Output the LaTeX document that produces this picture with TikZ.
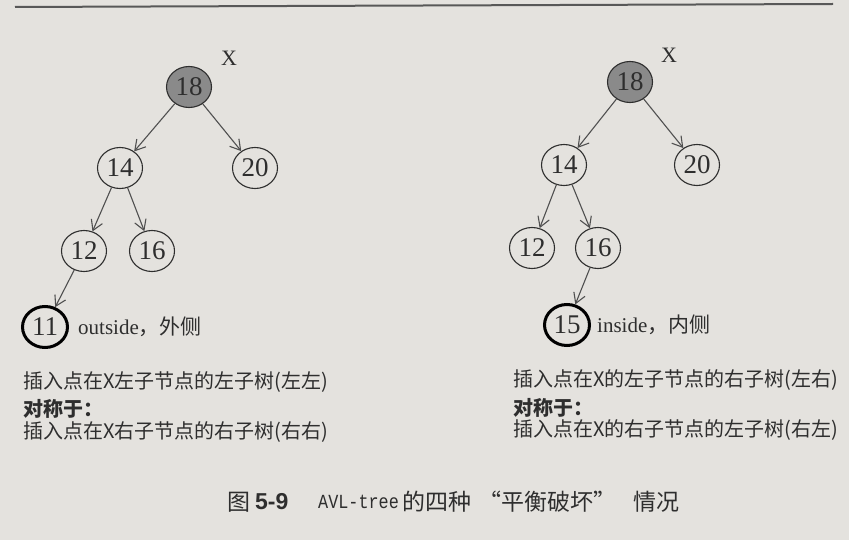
\documentclass[tikz,border=0pt]{standalone}
\usepackage{fontspec}
\setmainfont{Liberation Serif}
\setsansfont{Liberation Sans}
\setmonofont{Liberation Mono}
\newfontfamily\cjk{Noto Sans CJK SC}
\usetikzlibrary{arrows.meta,shapes.geometric}
\definecolor{paper}{HTML}{E4E2DE}
\definecolor{ink}{HTML}{2E2E2E}
\definecolor{edgec}{HTML}{505050}
\definecolor{rootfill}{HTML}{8A8A8A}
\begin{document}
\begin{tikzpicture}[x=1pt,y=-1pt,
  tn/.style={ellipse,draw=ink,line width=1.1pt,minimum width=45pt,minimum height=41pt,inner sep=0pt,
    font=\fontsize{27}{29}\selectfont,text=ink},
  rootn/.style={tn,fill=rootfill},
  newn/.style={tn,line width=3pt,draw=black},
  arr/.style={draw=edgec,line width=1.1pt,-{Straight Barb[length=10pt,width=12pt,line width=1.1pt]}},
  lbl/.style={font=\fontsize{22}{24}\selectfont,text=ink},
  side/.style={anchor=west,inner sep=0pt,font=\fontsize{21}{23}\selectfont,text=ink},
  desc/.style={anchor=west,inner sep=0pt,font=\cjk\fontsize{20}{22}\selectfont,text=ink},
  captxt/.style={anchor=west,inner sep=0pt,text=ink,font=\cjk\fontsize{23}{25}\selectfont}
]
\fill[paper] (0,0) rectangle (849,540);
\useasboundingbox (0,0) rectangle (849,540);
\draw[line width=2pt,draw=ink!80] (15,7) -- (833,4);

% left tree
\node[rootn] (l18) at (189,87) {18};
\node[tn] (l14) at (120,168) {14};
\node[tn] (l20) at (255,168) {20};
\node[tn] (l12) at (84,251) {12};
\node[tn] (l16) at (152,251) {16};
\node[newn] (l11) at (45,327) {11};
\node[lbl] (lx) at (229,58) {X};
\node[side] (lout) at (78,327) {outside{\cjk ，外侧}};
\draw[arr] (l18) -- (l14);
\draw[arr] (l18) -- (l20);
\draw[arr] (l14) -- (l12);
\draw[arr] (l14) -- (l16);
\draw[arr] (l12) -- (l11);

% right tree
\node[rootn] (r18) at (630,82) {18};
\node[tn] (r14) at (564,165) {14};
\node[tn] (r20) at (697,165) {20};
\node[tn] (r12) at (532,248) {12};
\node[tn] (r16) at (598,248) {16};
\node[newn] (r15) at (567,325) {15};
\node[lbl] (rx) at (669,55) {X};
\node[side] (rin) at (597,325) {inside{\cjk ，内侧}};
\draw[arr] (r18) -- (r14);
\draw[arr] (r18) -- (r20);
\draw[arr] (r14) -- (r12);
\draw[arr] (r14) -- (r16);
\draw[arr] (r16) -- (r15);

% descriptions
\node[desc] (ld1) at (23,382) {插入点在X左子节点的左子树(左左)};
\node[desc] (ld2) at (23,409) {\bfseries 对称于：};
\node[desc] (ld3) at (23,432) {插入点在X右子节点的右子树(右右)};
\node[desc] (rd1) at (513,380) {插入点在X的左子节点的右子树(左右)};
\node[desc] (rd2) at (513,408) {\bfseries 对称于：};
\node[desc] (rd3) at (513,430) {插入点在X的右子节点的左子树(右左)};

% caption
\node[captxt] (cap1) at (227,502) {图};
\node[captxt,font=\sffamily\bfseries\fontsize{23}{25}\selectfont] (cap2) at (255,502) {5-9};
\node[captxt,font=\ttfamily\fontsize{20}{24}\selectfont] (cap3) at (318,502) {\scalebox{0.84}[1]{AVL-tree}};
\node[captxt] (cap4) at (402,502) {的四种};
\node[captxt] (cap5) at (478,502) {“平衡破坏”};
\node[captxt] (cap6) at (633,502) {情况};
\end{tikzpicture}
\end{document}
